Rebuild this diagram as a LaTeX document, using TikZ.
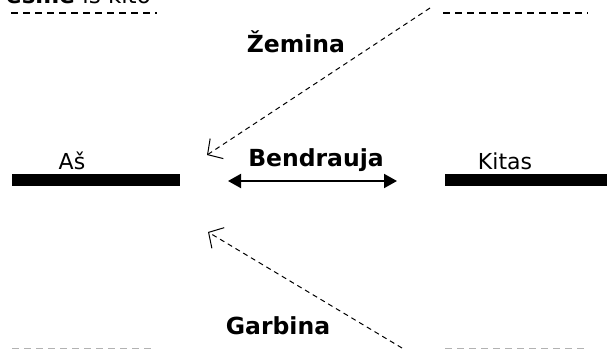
\documentclass[tikz,border=0pt]{standalone}
\usepackage{fontspec}
\setmainfont{DejaVu Sans}
\usetikzlibrary{arrows.meta}
\begin{document}
\begin{tikzpicture}[x=1pt,y=-1pt,
  bar/.style={line width=12pt},
  guide/.style={dashed,line width=1.5pt,dash pattern=on 7pt off 5pt},
  faint/.style={guide,gray!60},
  flow/.style={dashed,line width=1pt,dash pattern=on 5pt off 4pt,-{Straight Barb[length=11pt,width=24pt]}},
  both/.style={line width=2pt,{Triangle[length=13pt,width=14pt]}-{Triangle[length=13pt,width=14pt]}},
  lbl/.style={font=\fontsize{22}{25}\selectfont,inner sep=0pt},
  blbl/.style={lbl,font=\fontsize{23.5}{26}\selectfont\bfseries}]
\useasboundingbox (0,0) rectangle (607,348);
\clip (0,0) rectangle (607,348);

% heading row, mostly above the frame
\node[lbl,font=\fontsize{23}{26}\selectfont,anchor=base west] (head) at (6,3.5) {\textbf{esmė} iš kito};
\coordinate (tl1) at (11,13);  \coordinate (tl2) at (157,13);
\coordinate (tr1) at (443,13); \coordinate (tr2) at (588,13);
\draw[guide] (tl1) -- (tl2);
\draw[guide] (tr1) -- (tr2);

% the two sides
\coordinate (al) at (12,180);  \coordinate (ar) at (180,180);
\coordinate (kl) at (445,180); \coordinate (kr) at (607,180);
\draw[bar] (al) -- (ar);
\draw[bar] (kl) -- (kr);
\node[lbl] (as) at (72,161) {Aš};
\node[lbl] (kitas) at (505,161) {Kitas};

% middle exchange
\coordinate (bl) at (228,181); \coordinate (br) at (397,181);
\draw[both] (bl) -- (br);
\node[blbl] (bend) at (316,160) {Bendrauja};

% upper and lower influences
\coordinate (zs) at (430,8);   \coordinate (ze) at (207,155);
\draw[flow] (zs) -- (ze);
\node[blbl] (zem) at (296,42) {Žemina};
\coordinate (gs) at (402,348); \coordinate (ge) at (208,232);
\draw[flow] (gs) -- (ge);
\node[blbl] (garb) at (278,326) {Garbina};

% bottom row, mostly below the frame
\coordinate (bl1) at (12,349);  \coordinate (bl2) at (152,349);
\coordinate (br1) at (445,349); \coordinate (br2) at (584,349);
\draw[faint] (bl1) -- (bl2);
\draw[faint] (br1) -- (br2);
\end{tikzpicture}
\end{document}
